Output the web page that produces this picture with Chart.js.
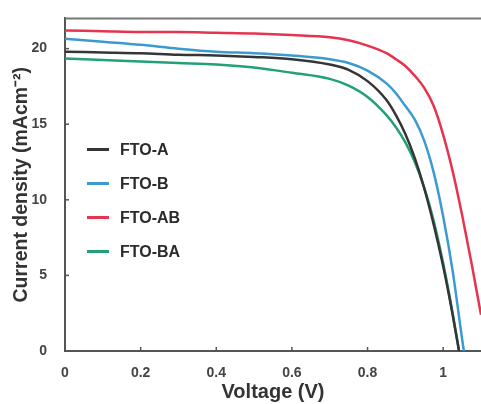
<!DOCTYPE html>
<html lang="en">
<head>
    <meta charset="UTF-8">
    <title>J-V curves</title>
    <script src="https://cdn.jsdelivr.net/npm/chart.js"></script>
    <style>
        html, body {
            margin: 0;
            padding: 0;
            background: #fff;
        }
        .wrap {
            position: relative;
            width: 481px;
            height: 404px;
        }
        #legend {
            position: absolute;
            left: 0;
            top: 0;
            font-family: 'Liberation Sans', Arial, sans-serif;
            font-weight: bold;
            font-size: 16px;
            color: #2b2b2b;
        }
        #legend .item {
            position: absolute;
            white-space: nowrap;
            line-height: 20px;
        }
        #legend .swatch {
            display: inline-block;
            width: 22px;
            height: 3px;
            vertical-align: middle;
            margin-right: 11px;
            position: relative;
            top: -1px;
        }
    </style>
</head>
<body>

<div class="wrap">
    <canvas id="jvChart" width="481" height="404"></canvas>
    <div id="legend"></div>
</div>

<script>
    // voltage grid (V) shared by all curves, denser near the knee
    const voltage = [0, 0.1, 0.2, 0.3, 0.4, 0.5, 0.6, 0.7, 0.75, 0.8, 0.85, 0.875, 0.9, 0.925, 0.95, 0.975, 1.0, 1.025, 1.05, 1.075, 1.1, 1.15];

    // current density (mA/cm2)
    const ftoA  = [19.8, 19.75, 19.7, 19.6, 19.55, 19.45, 19.3, 18.95, 18.6, 17.85, 16.6, 15.6, 14.35, 12.75, 10.75, 8.35, 5.6, 2.4, -1.2, -5, -9, -16];
    const ftoB  = [20.65, 20.45, 20.25, 20.0, 19.8, 19.7, 19.55, 19.3, 19.05, 18.55, 17.7, 17.05, 16.2, 15.3, 13.9, 11.8, 8.9, 5.3, 0.8, -3.5, -8, -16];
    const ftoAB = [21.2, 21.15, 21.1, 21.1, 21.05, 21.0, 20.9, 20.75, 20.55, 20.2, 19.7, 19.3, 18.85, 18.2, 17.4, 16.2, 14.3, 11.9, 9.0, 5.8, 2.4, -5];
    const ftoBA = [19.35, 19.25, 19.15, 19.05, 18.95, 18.75, 18.4, 18.0, 17.55, 16.8, 15.6, 14.8, 13.8, 12.5, 10.8, 8.6, 5.8, 2.5, -1.2, -5, -9, -16];

    const seriesNames  = ['FTO-A', 'FTO-B', 'FTO-AB', 'FTO-BA'];
    const seriesColors = ['#353535', '#3b9ad0', '#e6334f', '#23a077'];

    const xTicks = [0, 0.2, 0.4, 0.6, 0.8, 1];
    const yTicks = [0, 5, 10, 15, 20];

    const font = "'Liberation Sans', Arial, sans-serif";

    function toPoints(ys) {
        return voltage.map((v, i) => ({ x: v, y: ys[i] }));
    }

    const seriesData = [ftoA, ftoB, ftoAB, ftoBA];

    // top frame line + inside tick marks
    const framePlugin = {
        id: 'frame',
        afterDraw(chart) {
            const { ctx, chartArea, scales } = chart;
            ctx.save();
            ctx.strokeStyle = '#777';
            ctx.lineWidth = 2;
            ctx.beginPath();
            ctx.moveTo(chartArea.left, chartArea.top);
            ctx.lineTo(chartArea.right, chartArea.top);
            ctx.stroke();

            ctx.strokeStyle = '#555';
            ctx.lineWidth = 1.5;
            xTicks.forEach(t => {
                const px = scales.x.getPixelForValue(t);
                ctx.beginPath();
                ctx.moveTo(px, chartArea.bottom);
                ctx.lineTo(px, chartArea.bottom - 4);
                ctx.stroke();
            });
            yTicks.forEach(t => {
                const py = scales.y.getPixelForValue(t);
                ctx.beginPath();
                ctx.moveTo(chartArea.left, py);
                ctx.lineTo(chartArea.left + 4, py);
                ctx.stroke();
            });
            ctx.restore();
        }
    };

    const ctx = document.getElementById('jvChart').getContext('2d');
    const jvChart = new Chart(ctx, {
        type: 'line',
        data: {
            datasets: seriesNames.map((name, i) => ({
                label: name,
                data: toPoints(seriesData[i]),
                borderColor: seriesColors[i],
                borderWidth: 2.5,
                pointRadius: 0,
                fill: false,
                cubicInterpolationMode: 'monotone'
            }))
        },
        options: {
            responsive: false,
            animation: false,
            layout: { padding: { top: 16, right: 0, left: 0, bottom: 0 } },
            plugins: {
                legend: { display: false },
                tooltip: { enabled: false }
            },
            scales: {
                x: {
                    type: 'linear',
                    min: 0,
                    max: 1.1,
                    afterBuildTicks: s => { s.ticks = xTicks.map(v => ({ value: v })); },
                    afterFit: s => { s.height = 53; },
                    ticks: {
                        callback: v => String(+v.toFixed(1)),
                        color: '#444',
                        font: { family: font, size: 14, weight: 'bold' },
                        padding: 6,
                        maxRotation: 0
                    },
                    grid: { display: false },
                    border: { color: '#555', width: 2 },
                    title: {
                        display: true,
                        text: 'Voltage (V)',
                        color: '#333',
                        font: { family: font, size: 20, weight: 'bold' },
                        padding: { top: 0, bottom: 0 }
                    }
                },
                y: {
                    min: 0,
                    max: 22,
                    afterBuildTicks: s => { s.ticks = yTicks.map(v => ({ value: v })); },
                    afterFit: s => { s.width = 65; },
                    ticks: {
                        color: '#444',
                        font: { family: font, size: 14, weight: 'bold' },
                        padding: 10
                    },
                    grid: { display: false },
                    border: { color: '#555', width: 2 },
                    title: {
                        display: true,
                        text: 'Current density (mAcm⁻²)',
                        color: '#333',
                        font: { family: font, size: 19.5, weight: 'bold' },
                        padding: { top: 10, bottom: 0 }
                    }
                }
            }
        },
        plugins: [framePlugin]
    });

    // legend placed inside the plot, upper left
    const legendEl = document.getElementById('legend');
    const legendTop = [140, 174, 208, 242];
    seriesNames.forEach((name, i) => {
        const item = document.createElement('div');
        item.className = 'item';
        item.style.left = '87px';
        item.style.top = legendTop[i] + 'px';
        item.innerHTML = '<span class="swatch" style="background:' + seriesColors[i] + '"></span>' + name;
        legendEl.appendChild(item);
    });
</script>

</body>
</html>
